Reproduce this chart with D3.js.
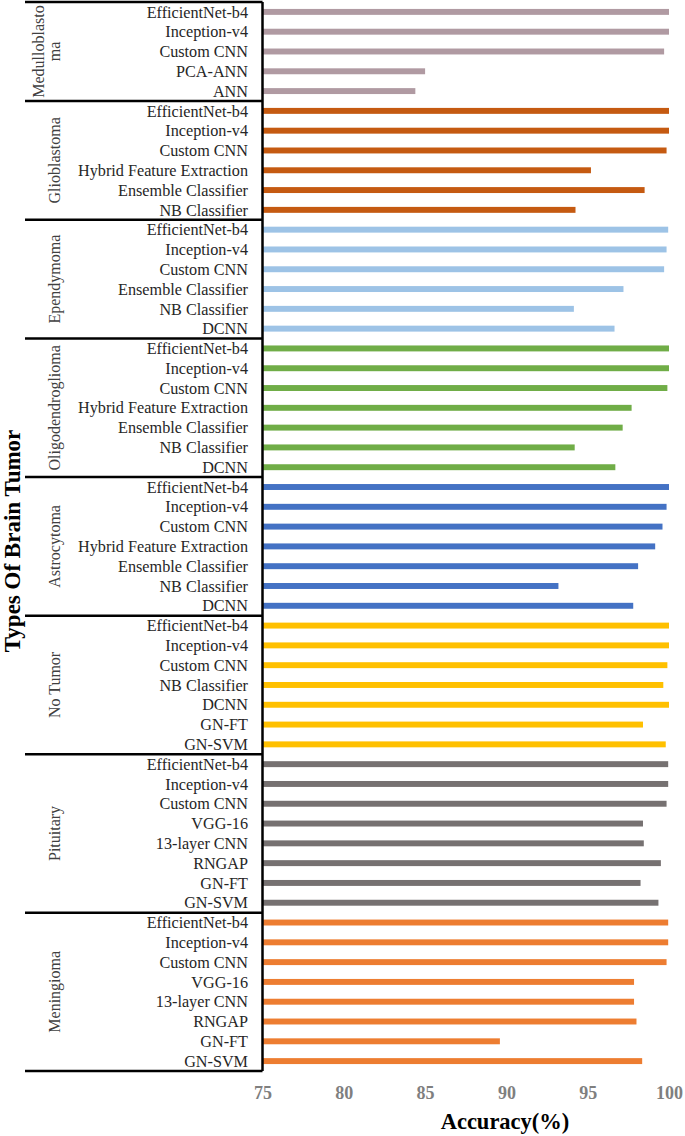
<!DOCTYPE html>
<html>
<head>
<meta charset="utf-8">
<script src="https://cdn.jsdelivr.net/npm/d3@7"></script>
<style>
	body { margin: 0; background: #fff; }
	text { font-family: "Liberation Serif", "Times New Roman", serif; }
</style>
</head>
<body>
<div id="chart-area"></div>
<script>
// SVG Size
let width = 685,
	height = 1136;

// Tumor types, top to bottom
let groups = ["Medulloblastoma", "Glioblastoma", "Ependymoma", "Oligodendroglioma",
	"Astrocytoma", "No Tumor", "Pituitary", "Meningioma"];
let groupColors = ["#b09aa2", "#c55a11", "#9dc3e6", "#70ad47",
	"#4472c4", "#ffc000", "#767171", "#ed7d31"];

let medulloModels = ["EfficientNet-b4", "Inception-v4", "Custom CNN", "PCA-ANN", "ANN"];
let medulloAcc = [100, 100, 99.7, 85.0, 84.4];

let glioModels = ["EfficientNet-b4", "Inception-v4", "Custom CNN", "Hybrid Feature Extraction", "Ensemble Classifier", "NB Classifier"];
let glioAcc = [100, 100, 99.85, 95.2, 98.5, 94.25];

let ependModels = ["EfficientNet-b4", "Inception-v4", "Custom CNN", "Ensemble Classifier", "NB Classifier", "DCNN"];
let ependAcc = [99.95, 99.85, 99.7, 97.2, 94.15, 96.65];

let oligoModels = ["EfficientNet-b4", "Inception-v4", "Custom CNN", "Hybrid Feature Extraction", "Ensemble Classifier", "NB Classifier", "DCNN"];
let oligoAcc = [100, 100, 99.9, 97.7, 97.15, 94.2, 96.7];

let astroModels = ["EfficientNet-b4", "Inception-v4", "Custom CNN", "Hybrid Feature Extraction", "Ensemble Classifier", "NB Classifier", "DCNN"];
let astroAcc = [100, 99.85, 99.6, 99.15, 98.1, 93.2, 97.8];

let noTumorModels = ["EfficientNet-b4", "Inception-v4", "Custom CNN", "NB Classifier", "DCNN", "GN-FT", "GN-SVM"];
let noTumorAcc = [100, 100, 99.9, 99.65, 100, 98.4, 99.8];

let pituModels = ["EfficientNet-b4", "Inception-v4", "Custom CNN", "VGG-16", "13-layer CNN", "RNGAP", "GN-FT", "GN-SVM"];
let pituAcc = [99.95, 99.95, 99.85, 98.4, 98.45, 99.5, 98.25, 99.35];

let meninModels = ["EfficientNet-b4", "Inception-v4", "Custom CNN", "VGG-16", "13-layer CNN", "RNGAP", "GN-FT", "GN-SVM"];
let meninAcc = [99.95, 99.95, 99.85, 97.85, 97.85, 98.0, 89.6, 98.35];

let xTicks = [75, 80, 85, 90, 95, 100];

let modelLists = [medulloModels, glioModels, ependModels, oligoModels, astroModels, noTumorModels, pituModels, meninModels];
let accLists = [medulloAcc, glioAcc, ependAcc, oligoAcc, astroAcc, noTumorAcc, pituAcc, meninAcc];

// flatten into one row per bar
let rows = [];
modelLists.forEach((models, g) => {
	models.forEach((m, i) => {
		rows.push({ id: rows.length, group: g, model: m, acc: accLists[g][i] });
	});
});

let svg = d3.select("#chart-area").append("svg")
	.attr("width", width)
	.attr("height", height);

let frameTop = 2, frameBottom = 1071, frameLeft = 25;

let XScale = d3.scaleLinear()
	.domain([75, 100])
	.range([262.5, 669]);

let YScale = d3.scaleBand()
	.domain(rows.map(d => d.id))
	.range([frameTop, frameBottom])
	.paddingInner(0.7)
	.paddingOuter(0.35);

let step = YScale.step();

// bars
svg.selectAll(".bar").data(rows)
	.enter()
	.append("rect")
	.attr("class", "bar")
	.attr("x", XScale(75))
	.attr("y", d => YScale(d.id))
	.attr("width", d => XScale(d.acc) - XScale(75))
	.attr("height", YScale.bandwidth())
	.attr("fill", d => groupColors[d.group]);

// model labels
svg.selectAll(".model-label").data(rows)
	.enter()
	.append("text")
	.attr("class", "model-label")
	.attr("x", 248)
	.attr("y", d => YScale(d.id) + YScale.bandwidth() / 2)
	.attr("dy", "0.35em")
	.attr("text-anchor", "end")
	.style("font-size", "16.2px")
	.attr("fill", "#262626")
	.text(d => d.model);

// group boxes
let bounds = groups.map((g, i) => {
	let r = rows.filter(d => d.group === i);
	let y0 = YScale(r[0].id) - YScale.paddingInner() * step / 2;
	let y1 = YScale(r[r.length - 1].id) + YScale.bandwidth() + YScale.paddingInner() * step / 2;
	return { name: g, y0: y0, y1: y1 };
});

let frame = svg.append("g")
	.attr("stroke", "#000")
	.attr("stroke-width", 2.5);

frame.selectAll(".sep").data([frameTop].concat(bounds.map(b => b.y1)))
	.enter()
	.append("line")
	.attr("x1", frameLeft)
	.attr("x2", XScale(75))
	.attr("y1", d => d)
	.attr("y2", d => d);

frame.append("line")
	.attr("x1", XScale(75)).attr("x2", XScale(75))
	.attr("y1", frameTop).attr("y2", frameBottom);

// group names, rotated
bounds.forEach((b, i) => {
	let cy = (b.y0 + b.y1) / 2;
	let lines = i === 0 ? ["Medulloblasto", "ma"] : [b.name];
	let t = svg.append("text")
		.attr("transform", "translate(" + (lines.length > 1 ? 38 : 54) + "," + cy + ") rotate(-90)")
		.attr("text-anchor", "middle")
		.style("font-size", "16px")
		.attr("fill", "#404040");
	lines.forEach((l, k) => {
		t.append("tspan")
			.attr("x", 0)
			.attr("dy", k === 0 ? "0.35em" : "1em")
			.text(l);
	});
});

//The Axis
let xAxis = d3.axisBottom()
	.scale(XScale)
	.tickValues(xTicks)
	.tickSize(0)
	.tickPadding(0);

let ax = svg.append("g")
	.attr("class", "axis x-axis")
	.attr("transform", "translate(0,1086)")
	.call(xAxis);
ax.select(".domain").remove();
ax.selectAll("text")
	.style("font-family", "'Liberation Serif', serif")
	.style("font-size", "18px")
	.style("font-weight", "bold")
	.attr("fill", "#7f7f7f");

svg.append("text")
	.attr("x", 505)
	.attr("y", 1129)
	.attr("text-anchor", "middle")
	.style("font-size", "22.5px")
	.style("font-weight", "bold")
	.text("Accuracy(%)");

svg.append("text")
	.attr("transform", "translate(12,541) rotate(-90)")
	.attr("text-anchor", "middle")
	.attr("dy", "0.35em")
	.style("font-size", "23px")
	.style("font-weight", "bold")
	.text("Types Of Brain Tumor");
</script>
</body>
</html>
